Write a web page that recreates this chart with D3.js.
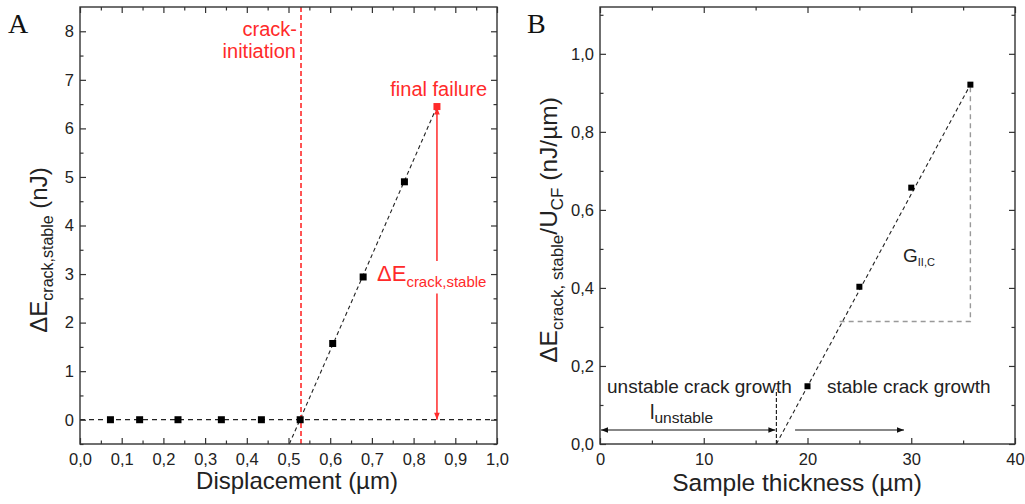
<!DOCTYPE html>
<html><head><meta charset="utf-8">
<script src="https://cdn.jsdelivr.net/npm/d3@7"></script>
<style>
html,body{margin:0;padding:0;background:#fff;}
svg{font-family:"Liberation Sans",Arial,sans-serif;}
</style>
</head><body>
<svg id="c" width="1025" height="504"></svg>
<script>
// ---- Data: panel A ----
const dispX = [0.073, 0.143, 0.235, 0.339, 0.435, 0.528, 0.606, 0.679, 0.778];
const dispY = [0, 0, 0, 0, 0, 0, 1.57, 2.94, 4.90];
const failX = [0.856];
const failY = [6.45];
const initX = 0.53;
const fitAX = [0.502, 0.856];
const fitAY = [-0.5, 6.45];
const ticksAX = [0,0.1,0.2,0.3,0.4,0.5,0.6,0.7,0.8,0.9,1.0];
const ticksAY = [0,1,2,3,4,5,6,7,8];
// ---- Data: panel B ----
const thickX = [20, 25, 30, 35.7];
const thickY = [0.148, 0.403, 0.657, 0.921];
const fitBX = [17, 35.7];
const fitBY = [0, 0.921];
const triX = [23.1, 35.7, 35.7];
const triY = [0.314, 0.314, 0.921];
const lUnstable = 17;
const ticksBX = [0,10,20,30,40];
const ticksBY = [0,0.2,0.4,0.6,0.8,1.0];

const svg = d3.select("#c");
const RED = "#ff2a2a";
const INK = "#222";
const SANS = "Liberation Sans, Arial, sans-serif";
const comma = d => d3.format(".1f")(d).replace(".", ",");

const defs = svg.append("defs");
function marker(id, color) {
  defs.append("marker").attr("id", id).attr("viewBox", "0 0 10 10")
    .attr("refX", 10).attr("refY", 5).attr("markerWidth", 9).attr("markerHeight", 7)
    .attr("markerUnits", "userSpaceOnUse").attr("orient", "auto-start-reverse")
    .append("path").attr("d", "M0,1 L10,5 L0,9 Z").attr("fill", color);
}
marker("arR", RED);
marker("arK", "#111");

function frame(x, y, xt, yt, xminor, yminor, xfmt, yfmt) {
  const [x0, x1] = x.range(), [y0, y1] = y.range();
  const g = svg.append("g");
  const ax = (gen, tr, vals, size, fmt) => {
    const a = g.append("g").attr("transform", tr)
      .call(gen.tickValues(vals).tickSize(size).tickPadding(size < -4 ? 5 : 0).tickFormat(fmt || (() => "")));
    a.select(".domain").remove();
    a.selectAll("line").attr("stroke", "#333").attr("stroke-width", 1.2);
    a.selectAll("text").attr("fill", INK).style("font-size", "16.5px").style("font-family", SANS);
    return a;
  };
  ax(d3.axisBottom(x), `translate(0,${y0})`, xminor, -3.5);
  ax(d3.axisBottom(x), `translate(0,${y0})`, xt, -6, xfmt).selectAll("text").attr("dy", "0.95em");
  ax(d3.axisTop(x), `translate(0,${y1})`, xminor, -3.5);
  ax(d3.axisTop(x), `translate(0,${y1})`, xt, -6);
  ax(d3.axisLeft(y), `translate(${x0},0)`, yminor, -3.5);
  ax(d3.axisLeft(y), `translate(${x0},0)`, yt, -6, yfmt).selectAll("text").attr("dx", "-1px");
  ax(d3.axisRight(y), `translate(${x1},0)`, yminor, -3.5);
  ax(d3.axisRight(y), `translate(${x1},0)`, yt, -6);
  g.append("rect").attr("x", x0).attr("y", y1).attr("width", x1 - x0).attr("height", y0 - y1)
    .attr("fill", "none").attr("stroke", "#333").attr("stroke-width", 1.4);
  return g;
}

// ================= Panel A =================
const xA = d3.scaleLinear([0, 1], [80, 497]);
const yA = d3.scaleLinear([-0.5, 8.5], [444, 7]);
const gA = svg.append("g");
gA.append("line").attr("x1", xA(0)).attr("x2", xA(1)).attr("y1", yA(0)).attr("y2", yA(0))
  .attr("stroke", "#222").attr("stroke-width", 1.2).attr("stroke-dasharray", "5,4");
gA.append("line").attr("x1", xA(fitAX[0])).attr("y1", yA(fitAY[0])).attr("x2", xA(fitAX[1])).attr("y2", yA(fitAY[1]))
  .attr("stroke", "#222").attr("stroke-width", 1.1).attr("stroke-dasharray", "4,3");
gA.append("line").attr("x1", xA(initX)).attr("x2", xA(initX)).attr("y1", yA(8.5)).attr("y2", yA(-0.5))
  .attr("stroke", RED).attr("stroke-width", 1.6).attr("stroke-dasharray", "5,3");
gA.append("line").attr("x1", xA(failX[0])).attr("x2", xA(failX[0])).attr("y1", yA(3.27)).attr("y2", yA(failY[0]) + 1)
  .attr("stroke", RED).attr("stroke-width", 1.5).attr("marker-end", "url(#arR)");
gA.append("line").attr("x1", xA(failX[0])).attr("x2", xA(failX[0])).attr("y1", yA(2.6)).attr("y2", yA(0))
  .attr("stroke", RED).attr("stroke-width", 1.5).attr("marker-end", "url(#arR)");
gA.selectAll("rect.p").data(dispX.map((d, i) => [d, dispY[i]])).join("rect")
  .attr("x", d => xA(d[0]) - 3.5).attr("y", d => yA(d[1]) - 3.5).attr("width", 7).attr("height", 7).attr("fill", "#000");
gA.selectAll("rect.f").data(failX.map((d, i) => [d, failY[i]])).join("rect")
  .attr("x", d => xA(d[0]) - 3.5).attr("y", d => yA(d[1]) - 3.5).attr("width", 7).attr("height", 7).attr("fill", RED);
gA.append("text").attr("x", 297).attr("y", 36).attr("text-anchor", "end").attr("font-size", 20).attr("fill", RED).text("crack-");
gA.append("text").attr("x", 296).attr("y", 58).attr("text-anchor", "end").attr("font-size", 20).attr("fill", RED).text("initiation");
gA.append("text").attr("x", 487).attr("y", 96).attr("text-anchor", "end").attr("font-size", 20).attr("fill", RED).text("final failure");
const tA = gA.append("text").attr("x", 377).attr("y", 281).attr("fill", RED).attr("font-size", 22);
tA.append("tspan").text("ΔE");
tA.append("tspan").attr("font-size", 15).attr("dy", 6).text("crack,stable");

frame(xA, yA, ticksAX, ticksAY, d3.range(0.05, 1, 0.1), [-0.5,0.5,1.5,2.5,3.5,4.5,5.5,6.5,7.5], comma, d3.format("d"));

svg.append("text").attr("x", 8).attr("y", 33).style("font-family", "Liberation Serif, serif").attr("font-size", 28).attr("fill", "#111").text("A");
svg.append("text").attr("x", 297).attr("y", 489).attr("text-anchor", "middle").attr("font-size", 24).attr("fill", INK).text("Displacement (µm)");
const ytA = svg.append("text").attr("transform", "translate(47,250) rotate(-90)").attr("text-anchor", "middle").attr("font-size", 24).attr("fill", INK);
ytA.append("tspan").text("ΔE");
ytA.append("tspan").attr("font-size", 16).attr("dy", 6).text("crack,stable");
ytA.append("tspan").attr("dy", -6).text(" (nJ)");

// ================= Panel B =================
const xB = d3.scaleLinear([0, 40], [600, 1015]);
const yB = d3.scaleLinear([0, 1.12], [444, 7]);
const gB = svg.append("g");
gB.append("path").attr("d", d3.line()(triX.map((d, i) => [xB(d), yB(triY[i])])))
  .attr("fill", "none").attr("stroke", "#999").attr("stroke-width", 1.4).attr("stroke-dasharray", "5,4");
gB.append("line").attr("x1", xB(fitBX[0])).attr("y1", yB(fitBY[0])).attr("x2", xB(fitBX[1])).attr("y2", yB(fitBY[1]))
  .attr("stroke", "#222").attr("stroke-width", 1.1).attr("stroke-dasharray", "4,3");
gB.append("line").attr("x1", xB(lUnstable)).attr("x2", xB(lUnstable)).attr("y1", yB(0)).attr("y2", yB(0.14))
  .attr("stroke", "#111").attr("stroke-width", 1.1).attr("stroke-dasharray", "4,2");
gB.append("line").attr("x1", xB(0) + 1).attr("x2", xB(lUnstable) - 1).attr("y1", yB(0.036)).attr("y2", yB(0.036))
  .attr("stroke", "#111").attr("stroke-width", 1.1).attr("marker-start", "url(#arK)").attr("marker-end", "url(#arK)");
gB.append("line").attr("x1", xB(18.8)).attr("x2", xB(29.3)).attr("y1", yB(0.036)).attr("y2", yB(0.036))
  .attr("stroke", "#111").attr("stroke-width", 1.1).attr("marker-end", "url(#arK)");
gB.selectAll("rect.p").data(thickX.map((d, i) => [d, thickY[i]])).join("rect")
  .attr("x", d => xB(d[0]) - 3).attr("y", d => yB(d[1]) - 3).attr("width", 6).attr("height", 6).attr("fill", "#000");
gB.append("text").attr("x", 607).attr("y", 393).attr("font-size", 19).attr("fill", INK).text("unstable crack growth");
gB.append("text").attr("x", 827).attr("y", 393).attr("font-size", 19).attr("fill", INK).text("stable crack growth");
const tl = gB.append("text").attr("x", 650).attr("y", 419).attr("font-size", 20).attr("fill", INK);
tl.append("tspan").text("l");
tl.append("tspan").attr("font-size", 15.5).attr("dy", 4).text("unstable");
const tg = gB.append("text").attr("x", 903).attr("y", 262).attr("font-size", 19).attr("fill", INK);
tg.append("tspan").text("G");
tg.append("tspan").attr("font-size", 11).attr("dy", 4).text("II,C");

frame(xB, yB, ticksBX, ticksBY, [5,15,25,35], [0.1,0.3,0.5,0.7,0.9,1.1], d3.format("d"), comma);

svg.append("text").attr("x", 527).attr("y", 33).style("font-family", "Liberation Serif, serif").attr("font-size", 28).attr("fill", "#111").text("B");
svg.append("text").attr("x", 797).attr("y", 491).attr("text-anchor", "middle").attr("font-size", 24.5).attr("fill", INK).text("Sample thickness (µm)");
const ytB = svg.append("text").attr("transform", "translate(557,230) rotate(-90)").attr("text-anchor", "middle").attr("font-size", 24.5).attr("fill", INK);
ytB.append("tspan").text("ΔE");
ytB.append("tspan").attr("font-size", 17).attr("dy", 6).text("crack, stable");
ytB.append("tspan").attr("dy", -6).text("/U");
ytB.append("tspan").attr("font-size", 17).attr("dy", 6).text("CF");
ytB.append("tspan").attr("dy", -6).text(" (nJ/µm)");
</script>
</body></html>
